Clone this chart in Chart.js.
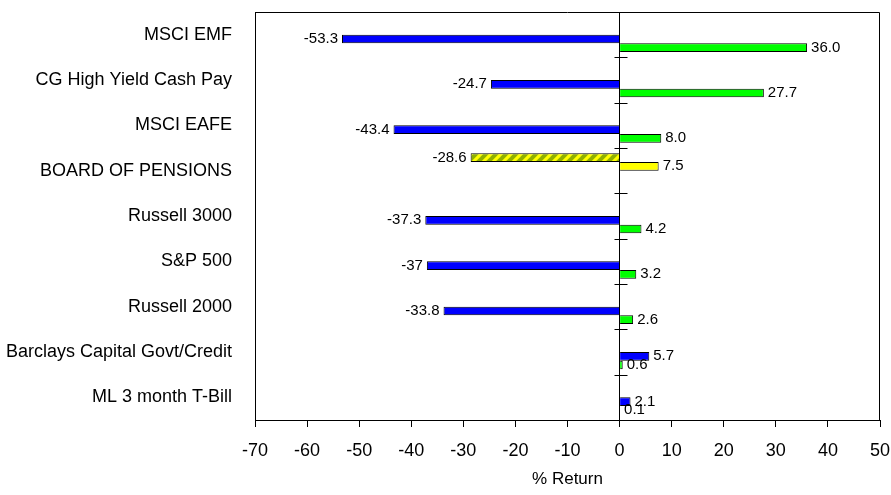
<!DOCTYPE html>
<html>
<head>
<meta charset="utf-8">
<script src="https://cdn.jsdelivr.net/npm/chart.js@4/dist/chart.umd.min.js"></script>
<style>
  html, body { margin: 0; padding: 0; background: #fff; }
  canvas { display: block; }
</style>
</head>
<body>
<canvas id="c" width="891" height="495"></canvas>
<script>
// Categories top to bottom.
const categories = ['MSCI EMF', 'CG High Yield Cash Pay', 'MSCI EAFE', 'BOARD OF PENSIONS',
  'Russell 3000', 'S&P 500', 'Russell 2000', 'Barclays Capital Govt/Credit', 'ML 3 month T-Bill'];

// Board of Pensions has its own pair of series (yellow), the indices the blue/green pair.
const bopPrior   = [null, null, null, -28.6, null, null, null, null, null];
const bopLatest  = [null, null, null, 7.5, null, null, null, null, null];
const idxPrior   = [-53.3, -24.7, -43.4, null, -37.3, -37, -33.8, 5.7, 2.1];
const idxLatest  = [36.0, 27.7, 8.0, null, 4.2, 3.2, 2.6, 0.6, 0.1];

const xTicks = [-70, -60, -50, -40, -30, -20, -10, 0, 10, 20, 30, 40, 50];

const FONT = "'Liberation Sans', Arial, sans-serif";

// yellow bar with olive diagonal stripes
function stripes() {
  const c = document.createElement('canvas');
  c.width = 10; c.height = 10;
  const g = c.getContext('2d');
  g.fillStyle = '#ffff00';
  g.fillRect(0, 0, 10, 10);
  g.strokeStyle = '#8fb000';
  g.lineWidth = 4;
  [[-5, 5, 5, -5], [0, 10, 10, 0], [5, 15, 15, 5]].forEach(([a, b, c2, d]) => {
    g.beginPath(); g.moveTo(a, b); g.lineTo(c2, d); g.stroke();
  });
  return g.createPattern(c, 'repeat');
}

// Value labels at the bar ends, outside.
const valueLabels = {
  id: 'valueLabels',
  afterDatasetsDraw(chart) {
    const ctx = chart.ctx;
    ctx.save();
    ctx.font = '15px ' + FONT;
    ctx.fillStyle = '#000';
    ctx.textBaseline = 'middle';
    chart.data.datasets.forEach((ds, i) => {
      chart.getDatasetMeta(i).data.forEach((bar, j) => {
        const v = ds.data[j];
        if (v === null) return;
        const txt = ds.fmt(v);
        if (v < 0) { ctx.textAlign = 'right'; ctx.fillText(txt, bar.x - 4, bar.y); }
        else { ctx.textAlign = 'left'; ctx.fillText(txt, bar.x + 4, bar.y); }
      });
    });
    ctx.restore();
  }
};

// Frame round the plot plus the little crosses on the zero line between categories.
const frame = {
  id: 'frame',
  afterDraw(chart) {
    const { ctx, chartArea: a, scales: { x, y } } = chart;
    ctx.save();
    ctx.strokeStyle = '#000';
    ctx.lineWidth = 1;
    ctx.beginPath();
    ctx.moveTo(Math.round(a.left) + 0.5, Math.round(a.top) + 0.5);
    ctx.lineTo(Math.round(a.right) - 0.5, Math.round(a.top) + 0.5);
    ctx.lineTo(Math.round(a.right) - 0.5, Math.round(a.bottom));
    ctx.stroke();
    const x0 = Math.round(x.getPixelForValue(0)) + 0.5;
    ctx.beginPath();
    for (let i = 0; i < categories.length - 1; i++) {
      const yy = Math.round(y.getPixelForValue(i + 0.5)) + 0.5;
      ctx.moveTo(x0 - 6, yy); ctx.lineTo(x0 + 7, yy);
    }
    ctx.stroke();
    ctx.restore();
  }
};

const common = { borderColor: '#000', borderWidth: 1, categoryPercentage: 0.766, barPercentage: 1 };
const oneDec = v => v.toFixed(1);
const plain = v => String(v);

new Chart(document.getElementById('c'), {
  type: 'bar',
  data: {
    labels: categories,
    datasets: [
      { ...common, label: 'Board of Pensions prior', data: bopPrior, backgroundColor: stripes(), fmt: plain },
      { ...common, label: 'Board of Pensions latest', data: bopLatest, backgroundColor: '#ffff00', fmt: plain },
      { ...common, label: 'Index prior', data: idxPrior, backgroundColor: '#0000ff', fmt: plain },
      { ...common, label: 'Index latest', data: idxLatest, backgroundColor: '#00ff00', fmt: oneDec },
    ]
  },
  options: {
    indexAxis: 'y',
    responsive: false,
    animation: false,
    devicePixelRatio: 1,
    layout: { padding: { top: 12, right: 11, left: 0, bottom: 0 } },
    plugins: { legend: { display: false }, tooltip: { enabled: false } },
    scales: {
      x: {
        min: -70, max: 50,
        afterBuildTicks: s => { s.ticks = xTicks.map(v => ({ value: v })); },
        // fixed height, and no extra room asked for the end labels
        afterFit: s => { s.height = 75; s.paddingLeft = 0; s.paddingRight = 0; },
        grid: {
          drawOnChartArea: true,
          color: c => (c.tick && c.tick.value === 0 ? '#000' : 'rgba(0,0,0,0)'),
          tickColor: '#000',
          tickLength: 7,
        },
        border: { display: true, color: '#000', width: 1 },
        ticks: { color: '#000', font: { family: FONT, size: 18 }, padding: 13, maxRotation: 0, autoSkip: false },
        title: { display: true, text: '% Return', color: '#000', font: { family: FONT, size: 17 }, padding: { top: 4, bottom: 5 } },
      },
      y: {
        afterFit: s => { s.width = 255; s.paddingTop = 0; s.paddingBottom = 0; },
        grid: { display: false },
        border: { display: true, color: '#000', width: 1 },
        ticks: { color: '#000', font: { family: FONT, size: 18 }, padding: 15, autoSkip: false },
      }
    }
  },
  plugins: [valueLabels, frame]
});
</script>
</body>
</html>
